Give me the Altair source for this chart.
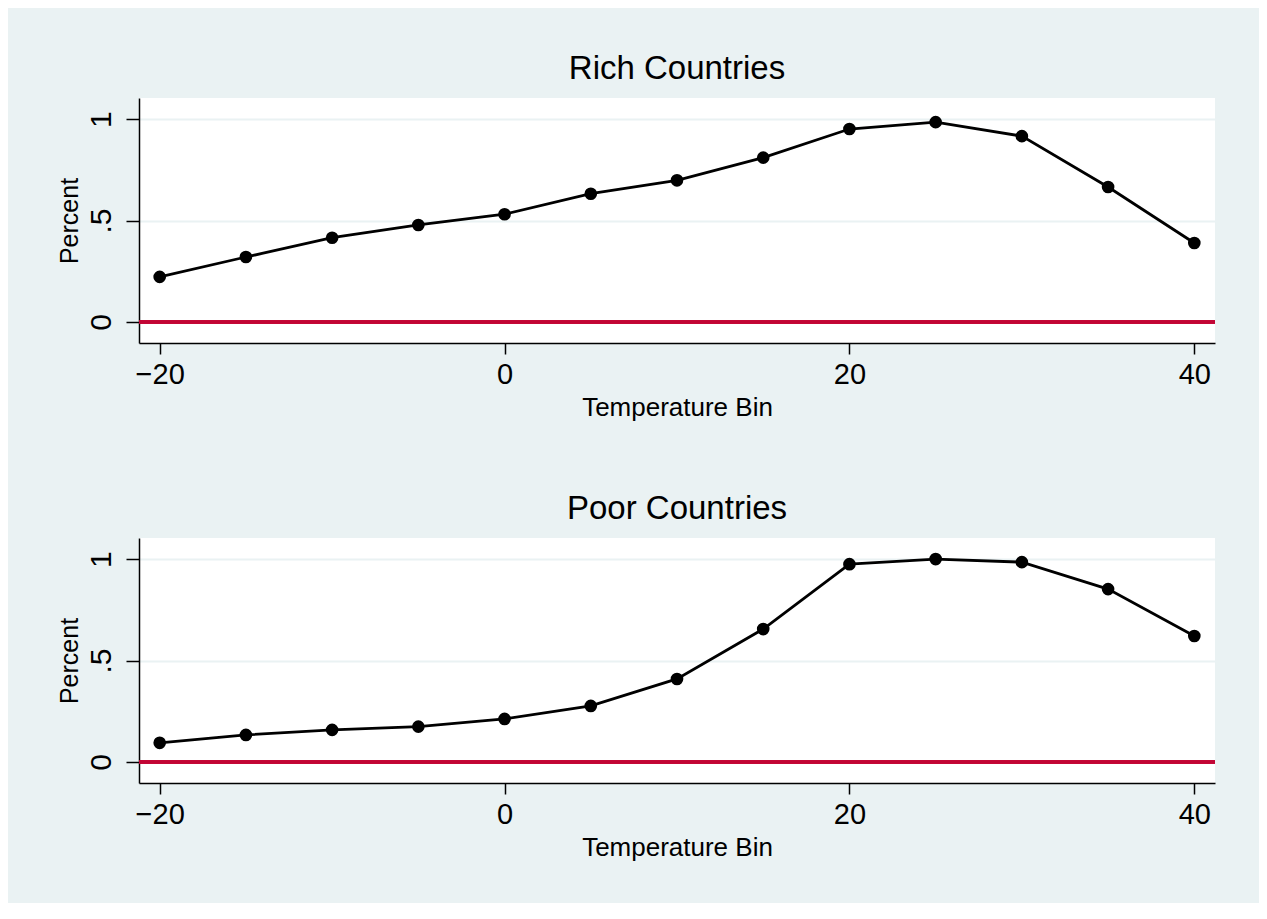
import altair as alt
import pandas as pd

temps = [-20, -15, -10, -5, 0, 5, 10, 15, 20, 25, 30, 35, 40]
rich = [0.222, 0.320, 0.415, 0.478, 0.531, 0.632, 0.698, 0.810, 0.951, 0.985, 0.916, 0.665, 0.389]
poor = [0.094, 0.133, 0.158, 0.174, 0.212, 0.276, 0.409, 0.655, 0.975, 1.000, 0.985, 0.852, 0.621]
x_ticks = [-20, 0, 20, 40]
y_ticks = [0, 0.5, 1]

BG = "#EAF2F3"
RED = "#C10534"
FONT = "Liberation Sans"


def panel(values, title):
    df = pd.DataFrame({"temp": temps, "pct": values})
    x = alt.X(
        "temp:Q",
        scale=alt.Scale(domain=[-21.2, 41.2], nice=False, zero=False),
        axis=alt.Axis(
            values=x_ticks, title="Temperature Bin", grid=False,
            domainColor="black", domainWidth=1.5, tickColor="black", tickWidth=1.5,
            tickSize=11, labelFontSize=29, labelPadding=6, labelColor="black",
            titleFontSize=26, titleFontWeight="normal", titleColor="black",
            titleBaseline="alphabetic", titleY=72, labelFlush=False,
            labelFont=FONT, titleFont=FONT,
        ),
    )
    y = alt.Y(
        "pct:Q",
        scale=alt.Scale(domain=[-0.104, 1.104], nice=False, zero=False),
        axis=alt.Axis(
            values=y_ticks, title="Percent", grid=True, gridColor=BG, gridWidth=2,
            domainColor="black", domainWidth=1.5, tickColor="black", tickWidth=1.5,
            tickSize=13, labelFontSize=30, labelPadding=16, labelColor="black",
            labelAngle=270, labelAlign="center", labelBaseline="alphabetic",
            format="~g",
            labelExpr="datum.value == 0.5 ? '.5' : datum.label",
            titleFontSize=25, titleFontWeight="normal", titleColor="black",
            titleAngle=270, titleBaseline="alphabetic", titleAlign="center",
            titleX=-62, titleY=122.5, labelFlush=False,
            labelFont=FONT, titleFont=FONT,
        ),
    )
    base = alt.Chart(df)
    rule = base.mark_rule(color=RED, strokeWidth=2.5).encode(y=alt.datum(0))
    line = base.mark_line(color="black", strokeWidth=2.8).encode(x=x, y=y)
    pts = base.mark_circle(color="black", opacity=1, size=160).encode(x=x, y=y)
    return alt.layer(rule, line, pts).properties(
        width=1076, height=245,
        title=alt.TitleParams(
            title, fontSize=33, font=FONT, fontWeight="normal", color="black",
            anchor="middle", baseline="alphabetic", offset=-14,
        ),
    )


chart = alt.vconcat(
    panel(rich, "Rich Countries"),
    panel(poor, "Poor Countries"),
    spacing=195,
    bounds="flush",
).properties(
    background=BG,
    padding={"left": 49, "top": 45, "right": 42, "bottom": 43},
).configure_view(fill="white", stroke=None)

chart.save("out.html", embed_options={"renderer": "svg", "actions": False})
